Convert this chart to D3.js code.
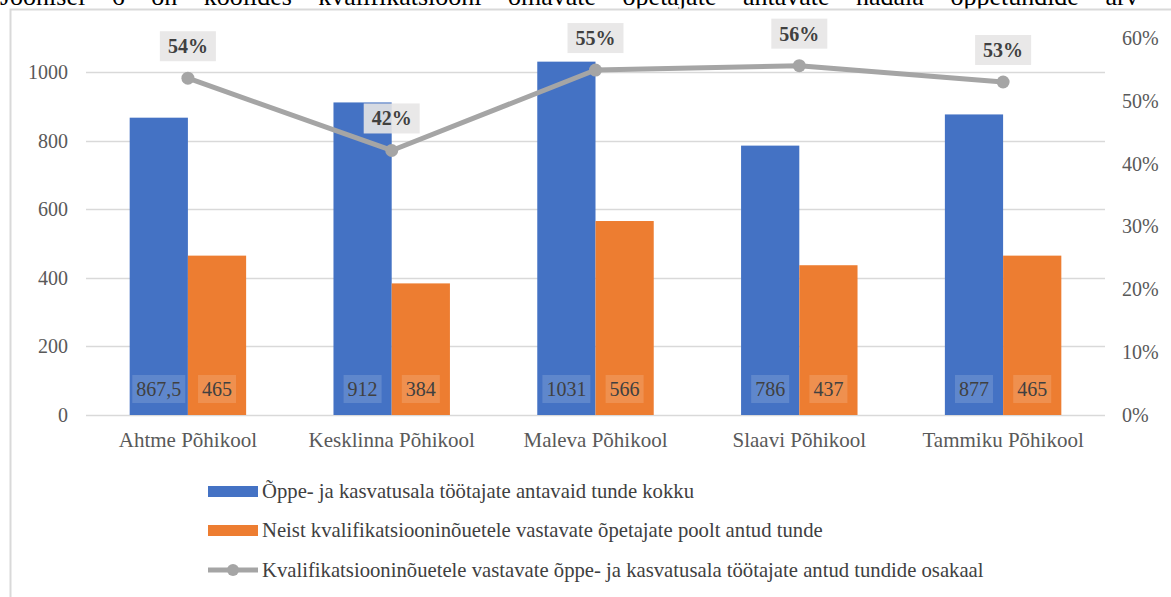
<!DOCTYPE html>
<html>
<head>
<meta charset="utf-8">
<script src="https://cdn.jsdelivr.net/npm/d3@7"></script>
<style>
  html, body { margin: 0; padding: 0; background: #fff; overflow: hidden; }
  svg { display: block; }
  text { font-family: "Liberation Serif", "Times New Roman", serif; }
</style>
</head>
<body>
<svg id="chart" width="1171" height="597"></svg>
<script>
// Data
const schools = ['Ahtme Põhikool', 'Kesklinna Põhikool', 'Maleva Põhikool', 'Slaavi Põhikool', 'Tammiku Põhikool'];
const totalHours = [867.5, 912, 1031, 786, 877];
const qualifiedHours = [465, 384, 566, 437, 465];
const qualifiedShare = [0.536, 0.421, 0.549, 0.556, 0.530];
const leftTicks = [0, 200, 400, 600, 800, 1000];
const rightTicks = [0, 0.1, 0.2, 0.3, 0.4, 0.5, 0.6];
const seriesNames = [
  'Õppe- ja kasvatusala töötajate antavaid tunde kokku',
  'Neist kvalifikatsiooninõuetele vastavate õpetajate poolt antud tunde',
  'Kvalifikatsiooninõuetele vastavate õppe- ja kasvatusala töötajate antud tundide osakaal'
];
const captionText = 'Joonisel 6 on koolides kvalifikatsiooni omavate õpetajate antavate nädala õppetundide arv';

const FONT = '"Liberation Serif", "Times New Roman", serif';
const colors = { blue: '#4472C4', orange: '#ED7D31', gray: '#A5A5A5' };

const svg = d3.select('#chart');

// caption line of the surrounding document, cut off at the top like the source
const caption = svg.append('text')
  .attr('x', 0).attr('y', 5)
  .attr('font-family', FONT)
  .attr('font-size', 26)
  .attr('fill', '#000')
  .text(captionText);
// justified text: spread the words so the line runs past the right edge
const capW = caption.node().getComputedTextLength();
const gaps = captionText.split(' ').length - 1;
caption.attr('word-spacing', Math.min(20, Math.max(0, (1195 - capW) / gaps)));

// chart frame
svg.append('rect')
  .attr('x', 10.5).attr('y', 9.5)
  .attr('width', 1200).attr('height', 700)
  .attr('fill', '#fff')
  .attr('stroke', '#d9d9d9')
  .attr('stroke-width', 2);

const plot = { left: 86, right: 1105, top: 38, bottom: 415 };

const x = d3.scaleBand()
  .domain(schools)
  .range([plot.left, plot.right]);

// Excel style gap width 150%
const gapWidth = 1.5;
const barW = x.bandwidth() / (2 + gapWidth);
const x1 = d3.scaleBand()
  .domain(['total', 'qualified'])
  .range([barW * gapWidth / 2, barW * gapWidth / 2 + 2 * barW]);

const yLeft = d3.scaleLinear().domain([0, 1100]).range([plot.bottom, plot.top]);
const yRight = d3.scaleLinear().domain([0, 0.6]).range([plot.bottom, plot.top]);

// gridlines
svg.append('g')
  .selectAll('line')
  .data(leftTicks)
  .enter()
  .append('line')
  .attr('x1', plot.left).attr('x2', plot.right)
  .attr('y1', d => Math.round(yLeft(d)) + 0.5)
  .attr('y2', d => Math.round(yLeft(d)) + 0.5)
  .attr('stroke', '#d9d9d9')
  .attr('stroke-width', 1.5);

// left axis labels
const leftAxis = svg.append('g')
  .attr('transform', `translate(${plot.left - 18},0)`)
  .call(d3.axisLeft(yLeft).tickValues(leftTicks).tickSize(0).tickPadding(0).tickFormat(d3.format('d')));
leftAxis.select('.domain').remove();
leftAxis.selectAll('text')
  .attr('font-size', 20)
  .attr('fill', '#595959')
  .attr('font-family', FONT);

// right axis labels
const rightAxis = svg.append('g')
  .attr('transform', `translate(${plot.right + 17},0)`)
  .call(d3.axisRight(yRight).tickValues(rightTicks).tickSize(0).tickPadding(0).tickFormat(d3.format('.0%')));
rightAxis.select('.domain').remove();
rightAxis.selectAll('text')
  .attr('font-size', 20)
  .attr('fill', '#595959')
  .attr('font-family', FONT);

// category labels
const bottomAxis = svg.append('g')
  .attr('transform', `translate(0,${plot.bottom + 17})`)
  .call(d3.axisBottom(x).tickSize(0).tickPadding(0));
bottomAxis.select('.domain').remove();
bottomAxis.selectAll('text')
  .attr('font-size', 21)
  .attr('fill', '#595959')
  .attr('font-family', FONT)
  .attr('dy', '0.71em');

// bars
const barData = [];
schools.forEach((s, i) => {
  barData.push({ school: s, key: 'total', value: totalHours[i], color: colors.blue });
  barData.push({ school: s, key: 'qualified', value: qualifiedHours[i], color: colors.orange });
});

svg.append('g')
  .selectAll('rect')
  .data(barData)
  .enter()
  .append('rect')
  .attr('x', d => x(d.school) + x1(d.key))
  .attr('y', d => yLeft(d.value))
  .attr('width', x1.bandwidth())
  .attr('height', d => plot.bottom - yLeft(d.value))
  .attr('fill', d => d.color);

// bar value labels at the base
const fmtComma = v => String(v).replace('.', ',');
const barLabels = svg.append('g')
  .selectAll('g')
  .data(barData)
  .enter()
  .append('g')
  .attr('transform', d => `translate(${x(d.school) + x1(d.key) + x1.bandwidth() / 2},${plot.bottom - 26})`);

barLabels.append('text')
  .attr('text-anchor', 'middle')
  .attr('dy', '0.35em')
  .attr('font-family', FONT)
  .attr('font-size', 20)
  .attr('fill', '#404040')
  .text(d => fmtComma(d.value));

barLabels.each(function () {
  const g = d3.select(this);
  const bb = g.select('text').node().getBBox();
  g.insert('rect', 'text')
    .attr('x', bb.x - 4).attr('y', -14)
    .attr('width', bb.width + 8).attr('height', 28)
    .attr('fill', '#fff')
    .attr('fill-opacity', 0.15);
});

// share line
const lineData = schools.map((s, i) => ({ school: s, value: qualifiedShare[i] }));
const line = d3.line()
  .x(d => x(d.school) + x.bandwidth() / 2)
  .y(d => yRight(d.value));

svg.append('path')
  .datum(lineData)
  .attr('d', line)
  .attr('fill', 'none')
  .attr('stroke', colors.gray)
  .attr('stroke-width', 5)
  .attr('stroke-linejoin', 'round');

svg.append('g')
  .selectAll('circle')
  .data(lineData)
  .enter()
  .append('circle')
  .attr('cx', d => x(d.school) + x.bandwidth() / 2)
  .attr('cy', d => yRight(d.value))
  .attr('r', 6.5)
  .attr('fill', colors.gray);

// line labels
const lineLabels = svg.append('g')
  .selectAll('g')
  .data(lineData)
  .enter()
  .append('g')
  .attr('transform', d => `translate(${x(d.school) + x.bandwidth() / 2},${yRight(d.value) - 32})`);

lineLabels.append('rect')
  .attr('x', -28).attr('y', -15)
  .attr('width', 56).attr('height', 30)
  .attr('fill', '#e7e6e6')
  .attr('fill-opacity', 0.9);

lineLabels.append('text')
  .attr('text-anchor', 'middle')
  .attr('dy', '0.35em')
  .attr('font-family', FONT)
  .attr('font-size', 20)
  .attr('font-weight', 'bold')
  .attr('fill', '#404040')
  .text(d => d3.format('.0%')(d.value));

// legend
const legendRows = [491, 530, 570];
const legend = svg.append('g');

legend.append('rect')
  .attr('x', 208).attr('y', legendRows[0] - 5)
  .attr('width', 50).attr('height', 11)
  .attr('fill', colors.blue);
legend.append('rect')
  .attr('x', 208).attr('y', legendRows[1] - 5)
  .attr('width', 50).attr('height', 11)
  .attr('fill', colors.orange);
legend.append('line')
  .attr('x1', 208).attr('x2', 258)
  .attr('y1', legendRows[2]).attr('y2', legendRows[2])
  .attr('stroke', colors.gray)
  .attr('stroke-width', 5);
legend.append('circle')
  .attr('cx', 233).attr('cy', legendRows[2])
  .attr('r', 6)
  .attr('fill', colors.gray);

legend.selectAll('text')
  .data(seriesNames)
  .enter()
  .append('text')
  .attr('x', 262)
  .attr('y', (d, i) => legendRows[i])
  .attr('dy', '0.35em')
  .attr('font-family', FONT)
  .attr('font-size', 20.7)
  .attr('fill', '#404040')
  .text(d => d);
</script>
</body>
</html>
